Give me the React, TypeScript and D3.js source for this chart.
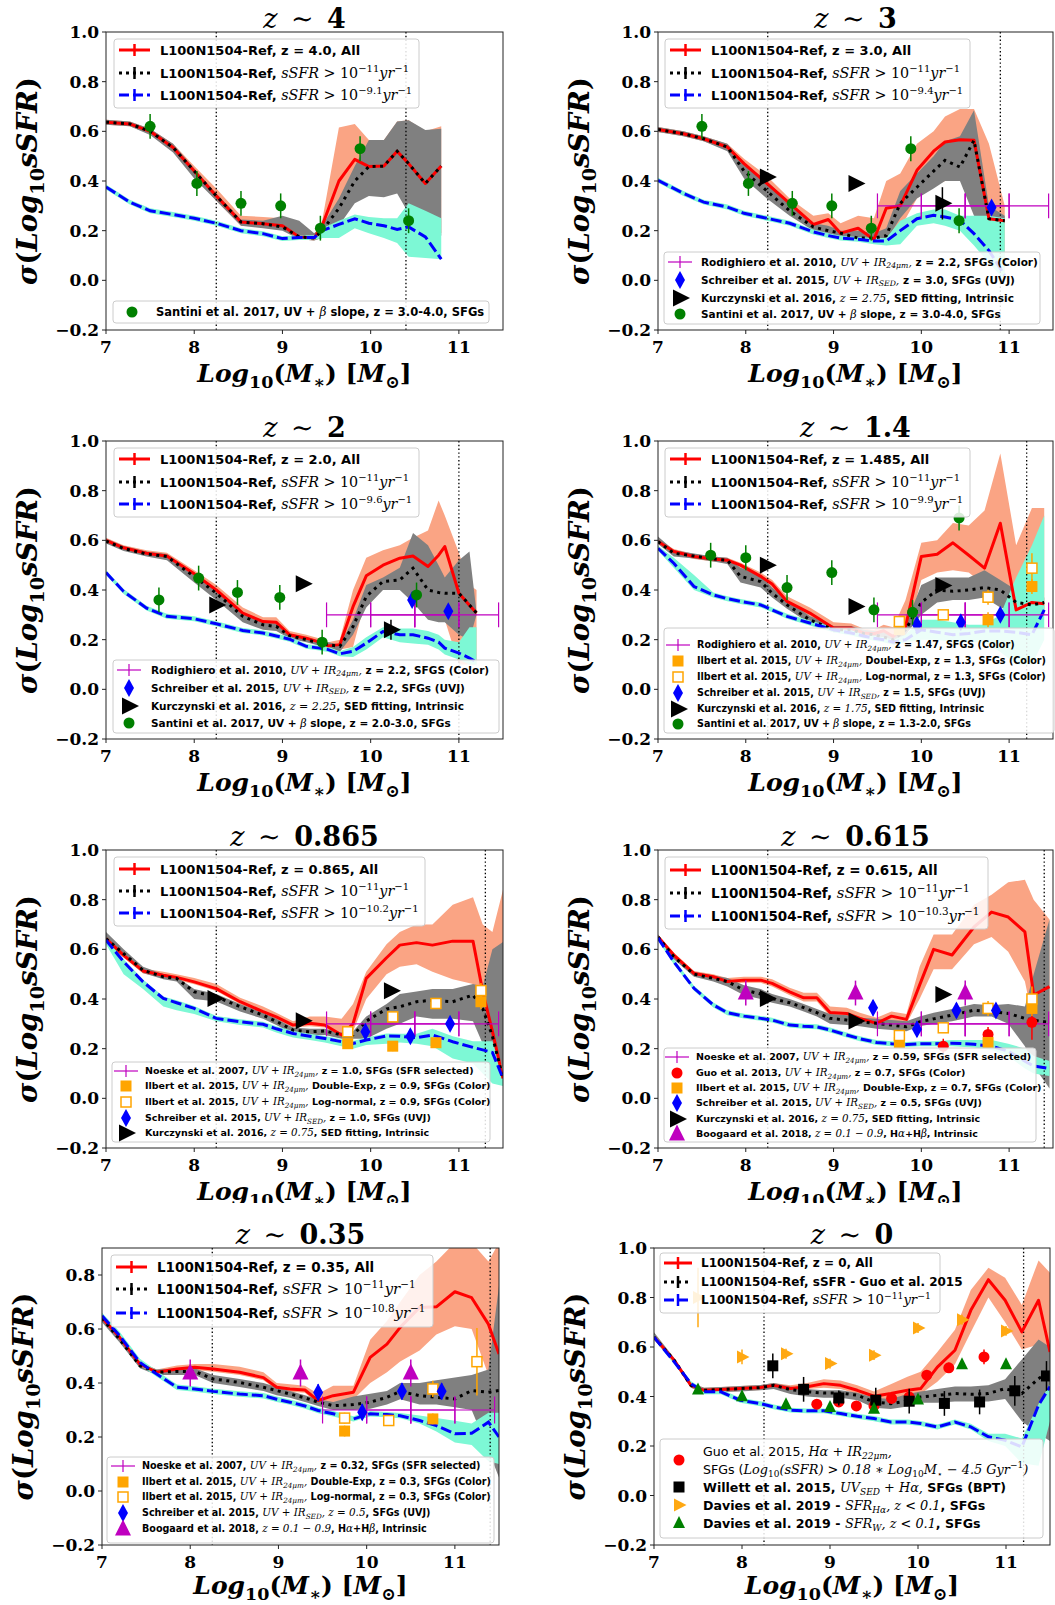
import React from 'react';
import * as d3 from 'd3';

type Seg = [string, string, number?];
type Pt = number[];

const SANS = "'DejaVu Sans', 'Liberation Sans', sans-serif";
const SERIF = "'DejaVu Serif', serif";
const ORANGE = '#FAA484';
const GREY = '#808080';
const CYAN = '#7DF8D5';
const MAG = '#BF00BF';

// ---------------- axis ticks ----------------
const xTicks = [7, 8, 9, 10, 11];
const yTicksFull = [-0.2, 0, 0.2, 0.4, 0.6, 0.8, 1.0];
const yTicksLow = [-0.2, 0, 0.2, 0.4, 0.6, 0.8];
const titles = ['4', '3', '2', '1.4', '0.865', '0.615', '0.35', '0'];
const allZ = ['4.0', '3.0', '2.0', '1.485', '0.865', '0.615', '0.35', '0'];
const blueCut = ['−9.1', '−9.4', '−9.6', '−9.9', '−10.2', '−10.3', '−10.8', '−11'];

// ---------------- simulation curves ----------------
// z ~ 4
const p1X = [7.0, 7.27, 7.5, 7.76, 8.0, 8.25, 8.53, 8.78, 9.0, 9.19, 9.36, 9.45, 9.64, 9.82, 9.98, 10.15, 10.3, 10.43, 10.62, 10.8];
const p1Red = [0.637, 0.63, 0.60, 0.535, 0.44, 0.34, 0.235, 0.228, 0.22, 0.175, 0.17, 0.22, 0.40, 0.487, 0.458, 0.46, 0.52, 0.47, 0.39, 0.46];
const p1RedLo = [0.627, 0.62, 0.59, 0.52, 0.42, 0.32, 0.22, 0.215, 0.205, 0.165, 0.16, 0.19, 0.25, 0.34, 0.36, 0.35, 0.38, 0.30, 0.26, 0.19];
const p1RedHi = [0.647, 0.64, 0.61, 0.55, 0.46, 0.37, 0.26, 0.255, 0.25, 0.19, 0.185, 0.24, 0.615, 0.63, 0.565, 0.565, 0.64, 0.645, 0.60, 0.62];
const p1Blk = [0.637, 0.63, 0.60, 0.535, 0.44, 0.34, 0.235, 0.228, 0.215, 0.175, 0.17, 0.2, 0.29, 0.40, 0.458, 0.46, 0.52, 0.47, 0.39, 0.46];
const p1BlkLo = [0.627, 0.62, 0.585, 0.515, 0.41, 0.32, 0.22, 0.21, 0.2, 0.165, 0.16, 0.17, 0.22, 0.31, 0.34, 0.335, 0.35, 0.27, 0.25, 0.18];
const p1BlkHi = [0.647, 0.64, 0.61, 0.55, 0.45, 0.35, 0.245, 0.24, 0.26, 0.24, 0.19, 0.22, 0.33, 0.46, 0.565, 0.565, 0.64, 0.645, 0.605, 0.61];
const p1Blu = [0.376, 0.315, 0.28, 0.265, 0.25, 0.23, 0.2, 0.188, 0.168, 0.172, 0.172, 0.2, 0.225, 0.248, 0.23, 0.22, 0.205, 0.215, 0.175, 0.085];
const p1BluLo = [0.366, 0.305, 0.27, 0.255, 0.24, 0.22, 0.19, 0.178, 0.158, 0.162, 0.162, 0.17, 0.17, 0.21, 0.19, 0.17, 0.15, 0.095, 0.09, 0.085];
const p1BluHi = [0.386, 0.325, 0.29, 0.275, 0.26, 0.24, 0.21, 0.198, 0.178, 0.182, 0.182, 0.21, 0.24, 0.265, 0.255, 0.25, 0.25, 0.31, 0.28, 0.25];

// z ~ 3
const p2X = [7.0, 7.29, 7.52, 7.79, 7.98, 8.24, 8.5, 8.77, 8.94, 9.08, 9.28, 9.46, 9.6, 9.76, 9.95, 10.14, 10.27, 10.44, 10.6, 10.77, 10.95];
const p2Red = [0.607, 0.59, 0.57, 0.537, 0.47, 0.39, 0.31, 0.225, 0.245, 0.19, 0.21, 0.164, 0.29, 0.30, 0.443, 0.52, 0.557, 0.566, 0.564, 0.248, 0.24];
const p2RedLo = [0.597, 0.58, 0.56, 0.525, 0.45, 0.36, 0.28, 0.21, 0.22, 0.175, 0.18, 0.15, 0.16, 0.21, 0.33, 0.38, 0.40, 0.40, 0.40, 0.22, 0.0];
const p2RedHi = [0.617, 0.60, 0.58, 0.55, 0.49, 0.42, 0.33, 0.26, 0.27, 0.23, 0.26, 0.25, 0.40, 0.43, 0.55, 0.60, 0.66, 0.69, 0.69, 0.55, 0.30];
const p2Blk = [0.607, 0.59, 0.57, 0.537, 0.44, 0.36, 0.28, 0.215, 0.2, 0.19, 0.17, 0.17, 0.18, 0.31, 0.375, 0.44, 0.483, 0.456, 0.564, 0.248, 0.24];
const p2BlkLo = [0.597, 0.58, 0.56, 0.52, 0.41, 0.33, 0.26, 0.2, 0.185, 0.17, 0.16, 0.155, 0.16, 0.25, 0.33, 0.37, 0.40, 0.40, 0.26, 0.24, 0.23];
const p2BlkHi = [0.617, 0.60, 0.58, 0.55, 0.47, 0.40, 0.31, 0.23, 0.22, 0.2, 0.2, 0.19, 0.21, 0.36, 0.43, 0.50, 0.56, 0.58, 0.685, 0.30, 0.26];
const p2Blu = [0.403, 0.35, 0.315, 0.295, 0.27, 0.25, 0.23, 0.195, 0.18, 0.17, 0.165, 0.158, 0.158, 0.2, 0.248, 0.262, 0.255, 0.242, 0.188, 0.12, 0.02];
const p2BluLo = [0.393, 0.34, 0.305, 0.285, 0.26, 0.24, 0.22, 0.185, 0.17, 0.16, 0.155, 0.145, 0.14, 0.145, 0.22, 0.23, 0.22, 0.2, 0.14, 0.07, 0.0];
const p2BluHi = [0.413, 0.36, 0.325, 0.305, 0.28, 0.26, 0.24, 0.205, 0.19, 0.18, 0.175, 0.17, 0.17, 0.24, 0.27, 0.285, 0.285, 0.26, 0.26, 0.26, 0.25];

// z ~ 2
const p3X = [7.0, 7.2, 7.46, 7.69, 8.0, 8.25, 8.55, 8.78, 8.93, 9.08, 9.27, 9.42, 9.52, 9.65, 9.8, 9.95, 10.14, 10.33, 10.48, 10.65, 10.77, 10.84, 11.0, 11.12, 11.2];
const p3Red = [0.60, 0.57, 0.548, 0.537, 0.465, 0.40, 0.307, 0.273, 0.27, 0.22, 0.206, 0.19, 0.175, 0.18, 0.333, 0.457, 0.50, 0.528, 0.537, 0.495, 0.54, 0.575, 0.387, 0.339, 0.307];
const p3RedLo = [0.59, 0.56, 0.538, 0.527, 0.45, 0.38, 0.29, 0.26, 0.255, 0.21, 0.195, 0.18, 0.165, 0.16, 0.17, 0.37, 0.42, 0.43, 0.40, 0.35, 0.30, 0.28, 0.10, 0.10, 0.10];
const p3RedHi = [0.61, 0.58, 0.56, 0.55, 0.48, 0.42, 0.33, 0.29, 0.29, 0.235, 0.22, 0.205, 0.19, 0.20, 0.40, 0.53, 0.56, 0.58, 0.61, 0.64, 0.76, 0.70, 0.55, 0.42, 0.40];
const p3Blk = [0.597, 0.567, 0.545, 0.535, 0.454, 0.387, 0.294, 0.26, 0.253, 0.216, 0.20, 0.186, 0.18, 0.173, 0.253, 0.374, 0.434, 0.44, 0.488, 0.40, 0.39, 0.387, 0.387, 0.34, 0.307];
const p3BlkLo = [0.587, 0.557, 0.535, 0.52, 0.43, 0.36, 0.27, 0.24, 0.235, 0.205, 0.19, 0.176, 0.17, 0.15, 0.22, 0.33, 0.40, 0.40, 0.35, 0.28, 0.27, 0.27, 0.22, 0.20, 0.30];
const p3BlkHi = [0.607, 0.577, 0.555, 0.545, 0.465, 0.40, 0.305, 0.27, 0.265, 0.225, 0.21, 0.196, 0.19, 0.18, 0.28, 0.42, 0.45, 0.49, 0.63, 0.58, 0.50, 0.45, 0.52, 0.555, 0.31];
const p3Blu = [0.47, 0.394, 0.327, 0.294, 0.284, 0.264, 0.237, 0.227, 0.215, 0.202, 0.173, 0.166, 0.16, 0.143, 0.153, 0.186, 0.233, 0.22, 0.22, 0.206, 0.19, 0.166, 0.146, 0.126, 0.11];
const p3BluLo = [0.46, 0.384, 0.317, 0.284, 0.274, 0.254, 0.227, 0.217, 0.205, 0.192, 0.163, 0.156, 0.15, 0.133, 0.13, 0.16, 0.21, 0.19, 0.185, 0.18, 0.16, 0.14, 0.12, 0.10, 0.10];
const p3BluHi = [0.48, 0.404, 0.337, 0.304, 0.294, 0.274, 0.247, 0.237, 0.225, 0.212, 0.183, 0.176, 0.17, 0.153, 0.17, 0.21, 0.25, 0.245, 0.245, 0.235, 0.22, 0.20, 0.19, 0.25, 0.25];

// z ~ 1.4
const p4X = [7.0, 7.18, 7.41, 7.63, 7.79, 7.94, 8.17, 8.3, 8.47, 8.73, 9.0, 9.2, 9.34, 9.46, 9.57, 9.68, 9.82, 10.0, 10.18, 10.36, 10.54, 10.72, 10.9, 11.08, 11.26, 11.4];
const p4Red = [0.595, 0.555, 0.535, 0.525, 0.52, 0.50, 0.455, 0.424, 0.354, 0.307, 0.247, 0.247, 0.227, 0.224, 0.236, 0.213, 0.253, 0.535, 0.544, 0.59, 0.54, 0.488, 0.669, 0.32, 0.35, 0.345];
const p4RedLo = [0.585, 0.545, 0.525, 0.515, 0.51, 0.49, 0.445, 0.41, 0.345, 0.295, 0.235, 0.235, 0.215, 0.21, 0.22, 0.18, 0.20, 0.44, 0.47, 0.48, 0.47, 0.42, 0.35, 0.30, 0.30, 0.30];
const p4RedHi = [0.605, 0.565, 0.545, 0.535, 0.53, 0.51, 0.47, 0.44, 0.375, 0.33, 0.27, 0.265, 0.245, 0.24, 0.26, 0.25, 0.36, 0.59, 0.60, 0.67, 0.66, 0.72, 0.95, 0.58, 0.73, 0.73];
const p4Blk = [0.595, 0.548, 0.537, 0.525, 0.52, 0.455, 0.434, 0.387, 0.34, 0.28, 0.24, 0.24, 0.225, 0.22, 0.21, 0.20, 0.24, 0.35, 0.40, 0.395, 0.40, 0.41, 0.40, 0.35, 0.34, 0.35];
const p4BlkLo = [0.585, 0.535, 0.527, 0.515, 0.505, 0.43, 0.41, 0.37, 0.325, 0.265, 0.23, 0.23, 0.215, 0.21, 0.20, 0.19, 0.22, 0.30, 0.35, 0.36, 0.36, 0.37, 0.33, 0.31, 0.30, 0.30];
const p4BlkHi = [0.615, 0.56, 0.547, 0.535, 0.53, 0.49, 0.46, 0.41, 0.36, 0.295, 0.255, 0.255, 0.24, 0.235, 0.23, 0.215, 0.26, 0.42, 0.45, 0.45, 0.45, 0.48, 0.44, 0.40, 0.37, 0.37];
const p4Blu = [0.568, 0.508, 0.414, 0.38, 0.365, 0.354, 0.34, 0.32, 0.294, 0.267, 0.24, 0.227, 0.215, 0.206, 0.20, 0.19, 0.2, 0.24, 0.23, 0.22, 0.225, 0.235, 0.235, 0.23, 0.22, 0.32];
const p4BluLo = [0.558, 0.49, 0.40, 0.37, 0.355, 0.344, 0.33, 0.31, 0.284, 0.257, 0.23, 0.217, 0.205, 0.196, 0.19, 0.18, 0.19, 0.20, 0.20, 0.19, 0.19, 0.19, 0.15, 0.10, 0.10, 0.20];
const p4BluHi = [0.578, 0.53, 0.46, 0.39, 0.375, 0.364, 0.35, 0.33, 0.304, 0.277, 0.25, 0.237, 0.225, 0.216, 0.21, 0.20, 0.22, 0.28, 0.28, 0.27, 0.26, 0.26, 0.30, 0.45, 0.58, 0.70];

// z ~ 0.865
const p5X = [7.0, 7.2, 7.42, 7.65, 7.8, 8.0, 8.25, 8.52, 8.78, 8.93, 9.12, 9.31, 9.48, 9.67, 9.8, 9.95, 10.18, 10.33, 10.52, 10.7, 10.93, 11.16, 11.27, 11.38, 11.5];
const p5Red = [0.643, 0.576, 0.513, 0.496, 0.487, 0.469, 0.442, 0.389, 0.349, 0.328, 0.295, 0.302, 0.295, 0.255, 0.30, 0.483, 0.566, 0.617, 0.627, 0.617, 0.633, 0.633, 0.43, 0.27, 0.08];
const p5RedLo = [0.633, 0.566, 0.503, 0.486, 0.477, 0.459, 0.432, 0.379, 0.339, 0.318, 0.285, 0.29, 0.285, 0.245, 0.27, 0.40, 0.50, 0.53, 0.54, 0.51, 0.48, 0.46, 0.25, 0.15, 0.05];
const p5RedHi = [0.653, 0.586, 0.523, 0.51, 0.50, 0.485, 0.46, 0.405, 0.37, 0.345, 0.31, 0.33, 0.33, 0.32, 0.38, 0.51, 0.62, 0.67, 0.70, 0.70, 0.78, 0.81, 0.70, 0.67, 0.84];
const p5Blk = [0.643, 0.583, 0.516, 0.489, 0.483, 0.429, 0.409, 0.369, 0.335, 0.31, 0.275, 0.268, 0.271, 0.255, 0.255, 0.311, 0.36, 0.369, 0.389, 0.395, 0.389, 0.416, 0.362, 0.25, 0.08];
const p5BlkLo = [0.623, 0.57, 0.505, 0.48, 0.47, 0.40, 0.39, 0.35, 0.32, 0.295, 0.26, 0.255, 0.255, 0.24, 0.24, 0.24, 0.28, 0.30, 0.33, 0.32, 0.32, 0.31, 0.22, 0.10, 0.07];
const p5BlkHi = [0.67, 0.60, 0.53, 0.50, 0.49, 0.44, 0.42, 0.38, 0.345, 0.32, 0.285, 0.28, 0.28, 0.265, 0.27, 0.33, 0.38, 0.42, 0.43, 0.44, 0.44, 0.46, 0.45, 0.60, 0.63];
const p5Blu = [0.637, 0.55, 0.469, 0.402, 0.385, 0.362, 0.322, 0.308, 0.298, 0.28, 0.261, 0.25, 0.241, 0.228, 0.221, 0.235, 0.251, 0.25, 0.244, 0.255, 0.228, 0.205, 0.195, 0.185, 0.08];
const p5BluLo = [0.62, 0.50, 0.44, 0.37, 0.355, 0.34, 0.31, 0.295, 0.285, 0.265, 0.245, 0.235, 0.225, 0.21, 0.20, 0.215, 0.22, 0.225, 0.22, 0.21, 0.16, 0.14, 0.10, 0.06, 0.05];
const p5BluHi = [0.647, 0.56, 0.479, 0.41, 0.395, 0.372, 0.332, 0.318, 0.308, 0.29, 0.271, 0.26, 0.251, 0.238, 0.231, 0.245, 0.261, 0.26, 0.26, 0.28, 0.25, 0.23, 0.23, 0.23, 0.12];

// z ~ 0.615
const p6X = [7.0, 7.18, 7.41, 7.63, 7.79, 7.98, 8.17, 8.3, 8.5, 8.66, 8.81, 8.96, 9.15, 9.3, 9.49, 9.66, 9.83, 9.98, 10.14, 10.35, 10.6, 10.8, 10.99, 11.18, 11.28, 11.46];
const p6Red = [0.65, 0.577, 0.503, 0.49, 0.47, 0.476, 0.476, 0.463, 0.429, 0.405, 0.405, 0.346, 0.342, 0.322, 0.302, 0.331, 0.318, 0.456, 0.60, 0.577, 0.69, 0.75, 0.73, 0.67, 0.416, 0.45];
const p6RedLo = [0.64, 0.567, 0.493, 0.48, 0.46, 0.465, 0.465, 0.45, 0.415, 0.39, 0.39, 0.33, 0.325, 0.31, 0.29, 0.31, 0.30, 0.40, 0.52, 0.52, 0.62, 0.65, 0.59, 0.47, 0.30, 0.30];
const p6RedHi = [0.66, 0.587, 0.513, 0.50, 0.485, 0.49, 0.49, 0.48, 0.445, 0.425, 0.425, 0.37, 0.365, 0.345, 0.325, 0.35, 0.34, 0.53, 0.66, 0.66, 0.78, 0.82, 0.87, 0.88, 0.80, 0.72];
const p6Blk = [0.65, 0.57, 0.50, 0.483, 0.47, 0.436, 0.42, 0.402, 0.385, 0.365, 0.345, 0.322, 0.315, 0.308, 0.302, 0.295, 0.288, 0.308, 0.32, 0.335, 0.355, 0.349, 0.342, 0.322, 0.315, 0.305];
const p6BlkLo = [0.64, 0.56, 0.49, 0.47, 0.45, 0.415, 0.40, 0.385, 0.37, 0.35, 0.33, 0.30, 0.295, 0.29, 0.28, 0.275, 0.27, 0.29, 0.30, 0.31, 0.33, 0.33, 0.30, 0.21, 0.13, 0.04];
const p6BlkHi = [0.66, 0.58, 0.51, 0.495, 0.485, 0.455, 0.44, 0.42, 0.40, 0.38, 0.36, 0.34, 0.335, 0.325, 0.32, 0.315, 0.31, 0.33, 0.345, 0.36, 0.38, 0.375, 0.38, 0.37, 0.50, 0.72];
const p6Blu = [0.646, 0.55, 0.443, 0.376, 0.345, 0.331, 0.322, 0.315, 0.295, 0.29, 0.288, 0.275, 0.255, 0.24, 0.225, 0.22, 0.217, 0.22, 0.22, 0.222, 0.218, 0.21, 0.19, 0.15, 0.13, 0.12];
const p6BluLo = [0.636, 0.54, 0.433, 0.366, 0.335, 0.321, 0.312, 0.305, 0.285, 0.28, 0.278, 0.265, 0.245, 0.23, 0.215, 0.21, 0.207, 0.21, 0.21, 0.21, 0.205, 0.195, 0.17, 0.12, 0.10, 0.09];
const p6BluHi = [0.656, 0.56, 0.453, 0.386, 0.355, 0.341, 0.332, 0.325, 0.305, 0.30, 0.298, 0.285, 0.265, 0.25, 0.235, 0.23, 0.227, 0.23, 0.23, 0.235, 0.235, 0.235, 0.22, 0.20, 0.17, 0.15];

// z ~ 0.35
const p7X = [7.0, 7.2, 7.43, 7.62, 7.85, 8.05, 8.26, 8.56, 8.83, 8.98, 9.13, 9.3, 9.45, 9.62, 9.85, 10.04, 10.23, 10.38, 10.6, 10.79, 11.0, 11.19, 11.38, 11.5];
const p7Red = [0.642, 0.569, 0.47, 0.44, 0.452, 0.458, 0.452, 0.44, 0.42, 0.384, 0.378, 0.374, 0.335, 0.353, 0.366, 0.495, 0.544, 0.606, 0.68, 0.682, 0.738, 0.716, 0.618, 0.507];
const p7RedLo = [0.632, 0.559, 0.46, 0.43, 0.442, 0.448, 0.442, 0.43, 0.41, 0.374, 0.368, 0.364, 0.32, 0.33, 0.34, 0.40, 0.44, 0.48, 0.52, 0.58, 0.61, 0.60, 0.43, 0.35];
const p7RedHi = [0.652, 0.579, 0.48, 0.45, 0.465, 0.47, 0.47, 0.46, 0.44, 0.40, 0.395, 0.39, 0.36, 0.39, 0.39, 0.56, 0.63, 0.70, 0.80, 0.85, 0.92, 0.92, 0.85, 0.92];
const p7Blk = [0.64, 0.562, 0.464, 0.44, 0.443, 0.443, 0.415, 0.402, 0.384, 0.372, 0.359, 0.345, 0.329, 0.316, 0.32, 0.329, 0.347, 0.369, 0.353, 0.347, 0.341, 0.372, 0.366, 0.372];
const p7BlkLo = [0.625, 0.55, 0.455, 0.43, 0.43, 0.43, 0.40, 0.385, 0.37, 0.355, 0.345, 0.33, 0.315, 0.30, 0.30, 0.305, 0.32, 0.34, 0.32, 0.32, 0.31, 0.30, 0.15, 0.05];
const p7BlkHi = [0.655, 0.575, 0.475, 0.45, 0.455, 0.455, 0.43, 0.415, 0.40, 0.385, 0.37, 0.355, 0.34, 0.33, 0.35, 0.36, 0.37, 0.40, 0.40, 0.41, 0.42, 0.43, 0.45, 0.76];
const p7Blu = [0.649, 0.575, 0.476, 0.433, 0.384, 0.378, 0.369, 0.359, 0.353, 0.34, 0.329, 0.315, 0.298, 0.286, 0.267, 0.286, 0.283, 0.279, 0.261, 0.242, 0.212, 0.214, 0.255, 0.2];
const p7BluLo = [0.639, 0.565, 0.466, 0.423, 0.374, 0.368, 0.359, 0.349, 0.343, 0.33, 0.319, 0.305, 0.288, 0.276, 0.257, 0.276, 0.273, 0.269, 0.25, 0.22, 0.18, 0.17, 0.11, 0.10];
const p7BluHi = [0.66, 0.59, 0.49, 0.445, 0.394, 0.388, 0.379, 0.369, 0.363, 0.35, 0.339, 0.325, 0.308, 0.296, 0.277, 0.296, 0.293, 0.289, 0.28, 0.27, 0.26, 0.25, 0.29, 0.29];

// z ~ 0
const p8X = [7.0, 7.23, 7.42, 7.57, 7.76, 7.98, 8.21, 8.36, 8.55, 8.74, 8.93, 9.12, 9.31, 9.5, 9.69, 9.88, 10.03, 10.22, 10.42, 10.6, 10.8, 10.99, 11.18, 11.37, 11.5];
const p8Red = [0.64, 0.546, 0.445, 0.425, 0.428, 0.432, 0.436, 0.445, 0.432, 0.439, 0.452, 0.445, 0.425, 0.401, 0.412, 0.425, 0.432, 0.519, 0.587, 0.748, 0.872, 0.789, 0.661, 0.789, 0.58];
const p8RedLo = [0.63, 0.536, 0.435, 0.415, 0.418, 0.422, 0.426, 0.435, 0.422, 0.43, 0.435, 0.43, 0.41, 0.38, 0.39, 0.40, 0.41, 0.46, 0.53, 0.66, 0.80, 0.70, 0.59, 0.61, 0.50];
const p8RedHi = [0.65, 0.556, 0.455, 0.435, 0.438, 0.442, 0.446, 0.455, 0.445, 0.455, 0.47, 0.465, 0.445, 0.42, 0.45, 0.48, 0.50, 0.58, 0.67, 0.83, 0.92, 0.88, 0.77, 0.95, 0.90];
const p8Blk = [0.64, 0.546, 0.445, 0.425, 0.428, 0.432, 0.436, 0.445, 0.428, 0.419, 0.414, 0.414, 0.405, 0.378, 0.371, 0.382, 0.398, 0.405, 0.412, 0.409, 0.412, 0.432, 0.412, 0.472, 0.506];
const p8BlkLo = [0.63, 0.536, 0.435, 0.415, 0.418, 0.42, 0.425, 0.43, 0.41, 0.40, 0.395, 0.395, 0.385, 0.355, 0.35, 0.36, 0.375, 0.375, 0.38, 0.38, 0.38, 0.39, 0.30, 0.25, 0.22];
const p8BlkHi = [0.66, 0.556, 0.455, 0.435, 0.438, 0.442, 0.446, 0.455, 0.44, 0.43, 0.425, 0.425, 0.415, 0.395, 0.39, 0.41, 0.42, 0.43, 0.44, 0.44, 0.445, 0.47, 0.55, 0.63, 0.60];
const p8Blu = [0.64, 0.54, 0.452, 0.419, 0.419, 0.385, 0.371, 0.358, 0.345, 0.342, 0.342, 0.331, 0.32, 0.311, 0.297, 0.297, 0.291, 0.277, 0.297, 0.277, 0.237, 0.223, 0.196, 0.365, 0.44];
const p8BluLo = [0.63, 0.53, 0.442, 0.409, 0.409, 0.375, 0.361, 0.348, 0.335, 0.332, 0.332, 0.321, 0.31, 0.30, 0.287, 0.287, 0.281, 0.267, 0.287, 0.267, 0.22, 0.20, 0.13, 0.12, 0.30];
const p8BluHi = [0.65, 0.55, 0.462, 0.429, 0.429, 0.395, 0.381, 0.368, 0.355, 0.352, 0.352, 0.341, 0.33, 0.321, 0.307, 0.307, 0.301, 0.287, 0.307, 0.29, 0.25, 0.25, 0.23, 0.37, 0.45];

// ---------------- observations: [x, y, yerr] ----------------
const santiniZ3: Pt[] = [[7.5, 0.62, 0.05], [8.03, 0.39, 0.05], [8.53, 0.31, 0.05], [8.98, 0.30, 0.05], [9.43, 0.21, 0.05], [9.88, 0.53, 0.05], [10.43, 0.24, 0.05]];
const santiniZ2: Pt[] = [[7.6, 0.36, 0.05], [8.05, 0.448, 0.05], [8.49, 0.39, 0.05], [8.97, 0.37, 0.05], [9.45, 0.19, 0.05], [10.52, 0.38, 0.05]];
const santiniZ14: Pt[] = [[7.6, 0.54, 0.05], [8.0, 0.53, 0.05], [8.47, 0.41, 0.05], [8.98, 0.47, 0.05], [9.46, 0.32, 0.05], [9.9, 0.31, 0.05], [10.43, 0.69, 0.05]];
// [x, y, yerr, xerrLow, xerrHigh]
const rodighiero: Pt[] = [[10, 0.3, 0.05, 0.5, 0.5], [10.5, 0.3, 0.05, 0.5, 0.5], [11, 0.3, 0.05, 0.5, 0.45]];
const noeske: Pt[] = [[10, 0.3, 0.05, 0.5, 0.5], [10.5, 0.3, 0.05, 0.5, 0.5], [11, 0.3, 0.05, 0.5, 0.45]];
const schreiberZ3: Pt[] = [[10.8, 0.293, 0.02]];
const schreiberZ2: Pt[] = [[10.47, 0.36, 0.02], [10.88, 0.314, 0.02]];
const schreiberZ15: Pt[] = [[9.95, 0.26, 0.02], [10.45, 0.27, 0.02], [10.9, 0.30, 0.02]];
const schreiberZ1: Pt[] = [[9.94, 0.268, 0.03], [10.45, 0.25, 0.02], [10.9, 0.3, 0.02]];
const schreiberZ05: Pt[] = [[9.45, 0.365, 0.03], [9.95, 0.278, 0.03], [10.4, 0.354, 0.03], [10.85, 0.354, 0.03]];
const schreiberZ05b: Pt[] = [[9.45, 0.365, 0.03], [9.95, 0.292, 0.03], [10.4, 0.369, 0.03], [10.85, 0.369, 0.03]];
const kurczZ275: Pt[] = [[8.24, 0.416, 0], [9.25, 0.39, 0], [10.24, 0.31, 0.065]];
const kurczZ225: Pt[] = [[8.25, 0.34, 0], [9.23, 0.425, 0], [10.23, 0.24, 0.04]];
const kurczZ175: Pt[] = [[8.24, 0.5, 0], [9.25, 0.334, 0], [10.24, 0.418, 0]];
const kurczZ075: Pt[] = [[8.23, 0.402, 0], [9.23, 0.312, 0], [10.23, 0.433, 0]];
const kurczZ075b: Pt[] = [[8.24, 0.402, 0], [9.25, 0.311, 0], [10.24, 0.418, 0]];
const ilbertDZ13: Pt[] = [[9.75, 0.24, 0.02], [10.76, 0.28, 0.03], [11.26, 0.414, 0.03]];
const ilbertLZ13: Pt[] = [[9.75, 0.273, 0.02], [10.25, 0.30, 0.02], [10.76, 0.371, 0.03], [11.26, 0.488, 0.06]];
const ilbertDZ09: Pt[] = [[9.74, 0.22, 0.02], [10.25, 0.21, 0.02], [10.74, 0.224, 0.02], [11.25, 0.389, 0.03]];
const ilbertLZ09: Pt[] = [[9.74, 0.268, 0.02], [10.25, 0.328, 0.02], [10.74, 0.382, 0.02], [11.25, 0.434, 0.03]];
const ilbertDZ07: Pt[] = [[9.75, 0.225, 0.02], [10.76, 0.225, 0.02], [11.26, 0.362, 0.03]];
const ilbertLZ07: Pt[] = [[9.75, 0.253, 0.02], [10.25, 0.284, 0.02], [10.76, 0.362, 0.03], [11.26, 0.40, 0.05]];
const ilbertDZ03: Pt[] = [[9.75, 0.222, 0.02], [10.75, 0.267, 0.02]];
const ilbertLZ03: Pt[] = [[9.75, 0.27, 0.02], [10.25, 0.261, 0.02], [10.75, 0.378, 0.03], [11.25, 0.479, 0.125]];
const guo13: Pt[] = [[10.25, 0.21, 0.03], [10.76, 0.257, 0.03], [11.26, 0.306, 0.07]];
const boogaardA: Pt[] = [[8.0, 0.424, 0.05], [9.25, 0.424, 0.05], [10.5, 0.424, 0.05]];
const boogaardB: Pt[] = [[8.0, 0.437, 0.05], [9.25, 0.437, 0.05], [10.5, 0.437, 0.05]];
const guo15: Pt[] = [[8.85, 0.369, 0.02], [9.1, 0.378, 0.02], [9.3, 0.362, 0.02], [9.5, 0.362, 0.02], [9.7, 0.392, 0.02], [9.9, 0.398, 0.02], [10.1, 0.486, 0.02], [10.35, 0.516, 0.02], [10.75, 0.56, 0.03]];
const willett: Pt[] = [[8.35, 0.524, 0.05], [8.7, 0.429, 0.05], [9.1, 0.394, 0.03], [9.52, 0.385, 0.05], [9.9, 0.381, 0.05], [10.3, 0.372, 0.05], [10.7, 0.378, 0.05], [11.1, 0.423, 0.06], [11.46, 0.483, 0.06]];
const daviesHa: Pt[] = [[7.5, 0.8, 0.12], [8.0, 0.56, 0.03], [8.5, 0.573, 0.02], [9.0, 0.533, 0.02], [9.5, 0.567, 0.02], [10.0, 0.677, 0.02], [10.5, 0.71, 0.02], [11.0, 0.665, 0.02]];
const daviesW: Pt[] = [[7.5, 0.428, 0.01], [8.0, 0.401, 0.01], [8.5, 0.369, 0.01], [9.0, 0.358, 0.01], [9.5, 0.351, 0.01], [10.0, 0.388, 0.01], [10.5, 0.53, 0.01], [11.0, 0.53, 0.01]];

// ---------------- legend texts ----------------
const UVIR24: Seg[] = [['m', 'UV + IR'], ['m_', '24μm'], ['m', ',']];
const UVIRSED: Seg[] = [['m', 'UV + IR'], ['m_', 'SED'], ['m', ',']];
const txtRodi = (z: string, s: string): Seg[] => [['b', 'Rodighiero et al. 2010, '], ...UVIR24, ['b', ` z = ${z}, ${s} (Color)`]];
const txtSchr = (z: string): Seg[] => [['b', 'Schreiber et al. 2015, '], ...UVIRSED, ['b', ` z = ${z}, SFGs (UVJ)`]];
const txtKurc = (z: string): Seg[] => [['b', 'Kurczynski et al. 2016, '], ['m', `z = ${z}`], ['b', ', SED fitting, Intrinsic']];
const txtSant = (z: string): Seg[] => [['b', 'Santini et al. 2017, UV + '], ['m', 'β'], ['b', ` slope, z = ${z}, SFGs`]];
const txtIlb = (k: string, z: string): Seg[] => [['b', 'Ilbert et al. 2015, '], ...UVIR24, ['b', ` ${k}, z = ${z}, SFGs (Color)`]];
const txtNoe = (z: string): Seg[] => [['b', 'Noeske et al. 2007, '], ...UVIR24, ['b', ` z = ${z}, SFGs (SFR selected)`]];
const txtGuo13: Seg[] = [['b', 'Guo et al. 2013, '], ...UVIR24, ['b', ' z = 0.7, SFGs (Color)']];
const txtBoog: Seg[] = [['b', 'Boogaard et al. 2018, '], ['m', 'z = 0.1 − 0.9'], ['b', ', H'], ['m', 'α'], ['b', '+H'], ['m', 'β'], ['b', ', Intrinsic']];
const txtSchr7: Seg[] = [['b', 'Schreiber et al. 2015, '], ['m', 'UV + IR'], ['m_', 'SED'], ['m', ', z = 0.5'], ['b', ', SFGs (UVJ)']];
const txtGuo15a: Seg[] = [['n', 'Guo et al. 2015, '], ['m', 'Hα + IR'], ['m_', '22μm'], ['m', ',']];
const txtGuo15b: Seg[] = [['n', 'SFGs ('], ['m', 'Log'], ['r_', '10'], ['m', '(sSFR) > 0.18 ∗ Log'], ['r_', '10'], ['m', 'M'], ['r_', '⋆'], ['m', ' − 4.5 Gyr'], ['r^', '−1'], ['m', ')']];
const txtWill: Seg[] = [['b', 'Willett et al. 2015, '], ['m', 'UV'], ['m_', 'SED'], ['m', ' + Hα,'], ['b', ' SFGs (BPT)']];
const txtDavHa: Seg[] = [['b', 'Davies et al. 2019 - '], ['m', 'SFR'], ['m_', 'Hα'], ['m', ', z < 0.1'], ['b', ', SFGs']];
const txtDavW: Seg[] = [['b', 'Davies et al. 2019 - '], ['m', 'SFR'], ['m_', 'W'], ['m', ', z < 0.1'], ['b', ', SFGs']];

type ObsSet = { kind: string; color: string; pts: Pt[] };
const S = (kind: string, color: string, pts: Pt[]): ObsSet => ({ kind, color, pts });

// ---------------- panel layout ----------------
type LegendObs = { x: number; y: number; w: number; h: number; font: number; ms: number; mx: number; tx: number; rows: number[]; entries: { set: ObsSet; lines: Seg[][] }[] };
type PanelSpec = {
  left: number; right: number; top: number; bottom: number; yDom: [number, number]; yTicks: number[]; xlab: number;
  xs: number[]; red: number[]; redLo: number[]; redHi: number[]; blk: number[]; blkLo: number[]; blkHi: number[];
  blu: number[]; bluLo: number[]; bluHi: number[]; vlines: number[]; obs: ObsSet[];
  main: { x: number; y: number; w: number; h: number; font: number; hx: number; hw: number; tx: number; rows: number[] };
  leg: LegendObs;
};

function buildPanels(): PanelSpec[] {
  const sant3 = S('circle', '#008000', santiniZ3);
  const sant2 = S('circle', '#008000', santiniZ2);
  const sant14 = S('circle', '#008000', santiniZ14);
  const rodi = S('hline', MAG, rodighiero);
  const noe = S('hline', MAG, noeske);
  const sch3 = S('diamond', '#0000ff', schreiberZ3);
  const sch2 = S('diamond', '#0000ff', schreiberZ2);
  const sch15 = S('diamond', '#0000ff', schreiberZ15);
  const sch1 = S('diamond', '#0000ff', schreiberZ1);
  const sch05 = S('diamond', '#0000ff', schreiberZ05);
  const sch05b = S('diamond', '#0000ff', schreiberZ05b);
  const k275 = S('triR', '#000000', kurczZ275);
  const k225 = S('triR', '#000000', kurczZ225);
  const k175 = S('triR', '#000000', kurczZ175);
  const k075 = S('triR', '#000000', kurczZ075);
  const k075b = S('triR', '#000000', kurczZ075b);
  const iD13 = S('square', '#FFA500', ilbertDZ13);
  const iL13 = S('squareOpen', '#FFA500', ilbertLZ13);
  const iD09 = S('square', '#FFA500', ilbertDZ09);
  const iL09 = S('squareOpen', '#FFA500', ilbertLZ09);
  const iD07 = S('square', '#FFA500', ilbertDZ07);
  const iL07 = S('squareOpen', '#FFA500', ilbertLZ07);
  const iD03 = S('square', '#FFA500', ilbertDZ03);
  const iL03 = S('squareOpen', '#FFA500', ilbertLZ03);
  const g13 = S('circle', '#ff0000', guo13);
  const bA = S('triUp', MAG, boogaardA);
  const bB = S('triUp', MAG, boogaardB);
  const g15 = S('circle', '#ff0000', guo15);
  const wil = S('square', '#000000', willett);
  const dHa = S('triRs', '#FFA812', daviesHa);
  const dW = S('triUps', '#008000', daviesW);

  const L = { left: 106, right: 503, xlab: 52 };
  const R = { left: 658, right: 1053, xlab: 52 };
  const mainStd = (x: number, y: number, w = 305, h = 69, rows = [11, 34, 56], font = 13) => ({ x, y, w, h, font, hx: 5, hw: 31, tx: 46, rows });

  return [
    { ...L, top: 32, bottom: 330, yDom: [-0.2, 1.0], yTicks: yTicksFull, xs: p1X, red: p1Red, redLo: p1RedLo, redHi: p1RedHi, blk: p1Blk, blkLo: p1BlkLo, blkHi: p1BlkHi, blu: p1Blu, bluLo: p1BluLo, bluHi: p1BluHi, vlines: [8.25, 10.4], obs: [sant3],
      main: mainStd(114, 39), leg: { x: 113, y: 301, w: 376, h: 22, font: 11.5, ms: 1.05, mx: 19, tx: 43, rows: [11], entries: [{ set: sant3, lines: [txtSant('3.0-4.0')] }] } },
    { ...R, top: 32, bottom: 330, yDom: [-0.2, 1.0], yTicks: yTicksFull, xs: p2X, red: p2Red, redLo: p2RedLo, redHi: p2RedHi, blk: p2Blk, blkLo: p2BlkLo, blkHi: p2BlkHi, blu: p2Blu, bluLo: p2BluLo, bluHi: p2BluHi, vlines: [8.25, 10.9], obs: [rodi, sch3, k275, sant3],
      main: mainStd(665, 39), leg: { x: 664, y: 252, w: 376, h: 72, font: 10.5, ms: 1.05, mx: 16, tx: 37, rows: [10, 28, 46, 62], entries: [{ set: rodi, lines: [txtRodi('2.2', 'SFGs')] }, { set: sch3, lines: [txtSchr('3.0')] }, { set: k275, lines: [txtKurc('2.75')] }, { set: sant3, lines: [txtSant('3.0-4.0')] }] } },
    { ...L, top: 441, bottom: 739, yDom: [-0.2, 1.0], yTicks: yTicksFull, xs: p3X, red: p3Red, redLo: p3RedLo, redHi: p3RedHi, blk: p3Blk, blkLo: p3BlkLo, blkHi: p3BlkHi, blu: p3Blu, bluLo: p3BluLo, bluHi: p3BluHi, vlines: [8.25, 11.0], obs: [rodi, sch2, k225, sant2],
      main: mainStd(114, 448), leg: { x: 113, y: 660, w: 386, h: 73, font: 10.5, ms: 1.05, mx: 16, tx: 38, rows: [10, 28, 46, 63], entries: [{ set: rodi, lines: [txtRodi('2.2', 'SFGS')] }, { set: sch2, lines: [txtSchr('2.2')] }, { set: k225, lines: [txtKurc('2.25')] }, { set: sant2, lines: [txtSant('2.0-3.0')] }] } },
    { ...R, top: 441, bottom: 739, yDom: [-0.2, 1.0], yTicks: yTicksFull, xs: p4X, red: p4Red, redLo: p4RedLo, redHi: p4RedHi, blk: p4Blk, blkLo: p4BlkLo, blkHi: p4BlkHi, blu: p4Blu, bluLo: p4BluLo, bluHi: p4BluHi, vlines: [8.25, 11.2], obs: [rodi, iD13, iL13, sch15, k175, sant14],
      main: mainStd(665, 448), leg: { x: 664, y: 628, w: 390, h: 105, font: 9.6, ms: 1.08, mx: 14, tx: 33, rows: [17, 33, 49, 65, 81, 96], entries: [{ set: rodi, lines: [txtRodi('1.47', 'SFGS')] }, { set: iD13, lines: [txtIlb('Doubel-Exp', '1.3')] }, { set: iL13, lines: [txtIlb('Log-normal', '1.3')] }, { set: sch15, lines: [txtSchr('1.5')] }, { set: k175, lines: [txtKurc('1.75')] }, { set: sant14, lines: [txtSant('1.3-2.0')] }] } },
    { ...L, top: 850, bottom: 1148, yDom: [-0.2, 1.0], yTicks: yTicksFull, xs: p5X, red: p5Red, redLo: p5RedLo, redHi: p5RedHi, blk: p5Blk, blkLo: p5BlkLo, blkHi: p5BlkHi, blu: p5Blu, bluLo: p5BluLo, bluHi: p5BluHi, vlines: [8.25, 11.3], obs: [noe, iD09, iL09, sch1, k075],
      main: mainStd(114, 857, 311, 69, [12, 34, 56]), leg: { x: 112, y: 1062, w: 378, h: 80, font: 9.5, ms: 1.08, mx: 14, tx: 33, rows: [9, 24, 40, 56, 71], entries: [{ set: noe, lines: [txtNoe('1.0')] }, { set: iD09, lines: [txtIlb('Double-Exp', '0.9')] }, { set: iL09, lines: [txtIlb('Log-normal', '0.9')] }, { set: sch1, lines: [txtSchr('1.0')] }, { set: k075, lines: [txtKurc('0.75')] }] } },
    { ...R, top: 850, bottom: 1148, yDom: [-0.2, 1.0], yTicks: yTicksFull, xs: p6X, red: p6Red, redLo: p6RedLo, redHi: p6RedHi, blk: p6Blk, blkLo: p6BlkLo, blkHi: p6BlkHi, blu: p6Blu, bluLo: p6BluLo, bluHi: p6BluHi, vlines: [8.25, 11.4], obs: [noe, g13, iD07, iL07, sch05, k075b, bA],
      main: mainStd(665, 857, 323, 72, [13, 36, 59], 13.5), leg: { x: 664, y: 1048, w: 372, h: 94, font: 9.5, ms: 1.08, mx: 13, tx: 32, rows: [9, 25, 40, 55, 71, 86], entries: [{ set: noe, lines: [txtNoe('0.59')] }, { set: g13, lines: [txtGuo13] }, { set: iD07, lines: [txtIlb('Double-Exp', '0.7')] }, { set: sch05, lines: [txtSchr('0.5')] }, { set: k075b, lines: [txtKurc('0.75')] }, { set: bA, lines: [txtBoog] }] } },
    { left: 102, right: 499, xlab: 49, top: 1248, bottom: 1545, yDom: [-0.2, 0.9], yTicks: yTicksLow, xs: p7X, red: p7Red, redLo: p7RedLo, redHi: p7RedHi, blk: p7Blk, blkLo: p7BlkLo, blkHi: p7BlkHi, blu: p7Blu, bluLo: p7BluLo, bluHi: p7BluHi, vlines: [8.25, 11.4], obs: [noe, iD03, iL03, sch05b, bB],
      main: mainStd(111, 1255, 322, 72, [12, 34, 58], 13.5), leg: { x: 107, y: 1457, w: 387, h: 86, font: 9.6, ms: 1.08, mx: 16, tx: 35, rows: [9, 25, 40, 56, 72], entries: [{ set: noe, lines: [txtNoe('0.32')] }, { set: iD03, lines: [txtIlb('Double-Exp', '0.3')] }, { set: iL03, lines: [txtIlb('Log-normal', '0.3')] }, { set: sch05b, lines: [txtSchr7] }, { set: bB, lines: [txtBoog] }] } },
    { left: 654, right: 1050, xlab: 49, top: 1248, bottom: 1545, yDom: [-0.2, 1.0], yTicks: yTicksFull, xs: p8X, red: p8Red, redLo: p8RedLo, redHi: p8RedHi, blk: p8Blk, blkLo: p8BlkLo, blkHi: p8BlkHi, blu: p8Blu, bluLo: p8BluLo, bluHi: p8BluHi, vlines: [8.25, 11.2], obs: [dHa, g15, wil, dW],
      main: { x: 660, y: 1253, w: 280, h: 60, font: 12, hx: 4, hw: 28, tx: 41, rows: [10, 29, 47] }, leg: { x: 660, y: 1439, w: 383, h: 99, font: 12.6, ms: 1.02, mx: 19, tx: 43, rows: [21, 48, 66, 84], entries: [{ set: g15, lines: [txtGuo15a, txtGuo15b] }, { set: wil, lines: [txtWill] }, { set: dHa, lines: [txtDavHa] }, { set: dW, lines: [txtDavW] }] } },
  ];
}

// ---------------- drawing helpers ----------------
function Rich({ x, y, segs, size, anchor, transform, mathScale }: { x: number; y: number; segs: Seg[]; size: number; anchor?: string; transform?: string; mathScale?: number }) {
  let off = 0;
  const ms = mathScale || 1;
  return (
    <text x={x} y={y} fontSize={size} textAnchor={anchor || 'start'} transform={transform} style={{ whiteSpace: 'pre' }} fill="#000">
      {segs.map(([k, t, mult], i) => {
        const base = k[0];
        const mod = k[1];
        const target = mod === '^' ? -size * 0.42 : mod === '_' ? size * 0.25 : 0;
        const dy = target - off;
        off = target;
        const isSans = base === 'b' || base === 'n';
        const fam = isSans ? SANS : SERIF;
        const weight = base === 'b' || base === 'M' || base === 'R' ? 'bold' : 'normal';
        const italic = base === 'm' || base === 'M';
        const fs = (mod ? size * 0.7 : size) * (isSans ? 1 : ms) * (mult || 1);
        return (
          <tspan key={i} dy={dy} fontFamily={fam} fontWeight={weight} fontStyle={italic ? 'italic' : 'normal'} fontSize={fs}>{t}</tspan>
        );
      })}
    </text>
  );
}

function Marker({ kind, cx, cy, color }: { kind: string; cx: number; cy: number; color: string }) {
  switch (kind) {
    case 'circle': return <circle cx={cx} cy={cy} r={5.5} fill={color} />;
    case 'square': return <rect x={cx - 5.5} y={cy - 5.5} width={11} height={11} fill={color} />;
    case 'squareOpen': return <rect x={cx - 5} y={cy - 5} width={10} height={10} fill="#fff" stroke={color} strokeWidth={1.5} />;
    case 'diamond': return <polygon points={`${cx},${cy - 9} ${cx + 5},${cy} ${cx},${cy + 9} ${cx - 5},${cy}`} fill={color} />;
    case 'triR': return <polygon points={`${cx - 7},${cy - 8.5} ${cx - 7},${cy + 8.5} ${cx + 10},${cy}`} fill={color} />;
    case 'triRs': return <polygon points={`${cx - 5},${cy - 6.5} ${cx - 5},${cy + 6.5} ${cx + 7.5},${cy}`} fill={color} />;
    case 'triUp': return <polygon points={`${cx},${cy - 9.5} ${cx - 8},${cy + 6.5} ${cx + 8},${cy + 6.5}`} fill={color} />;
    case 'triUps': return <polygon points={`${cx},${cy - 7} ${cx - 6},${cy + 5} ${cx + 6},${cy + 5}`} fill={color} />;
    default: return null;
  }
}

function ObsLayer({ s, x, y }: { s: ObsSet; x: d3.ScaleLinear<number, number>; y: d3.ScaleLinear<number, number> }) {
  return (
    <g>
      {s.pts.map((pt, i) => {
        if (s.kind === 'hline') {
          const [px, py, ey, xl, xh] = pt;
          const segs = [
            [x(px - xl), y(py), x(px + xh), y(py)],
            [x(px), y(py - ey), x(px), y(py + ey)],
            [x(px - xl), y(py - ey), x(px - xl), y(py + ey)],
            [x(px + xh), y(py - ey), x(px + xh), y(py + ey)],
          ];
          return <g key={i}>{segs.map((q, j) => <line key={j} x1={q[0]} y1={q[1]} x2={q[2]} y2={q[3]} stroke={s.color} strokeWidth={1.2} />)}</g>;
        }
        const [px, py, e] = pt;
        return (
          <g key={i}>
            {e > 0 && <line x1={x(px)} x2={x(px)} y1={y(py - e)} y2={y(py + e)} stroke={s.color} strokeWidth={1.5} />}
            <Marker kind={s.kind} cx={x(px)} cy={y(py)} color={s.color} />
          </g>
        );
      })}
    </g>
  );
}

const fmt = d3.format('.1f');

function Panel({ p, idx }: { p: PanelSpec; idx: number }) {
  const x = d3.scaleLinear().domain([7, 11.5]).range([p.left, p.right]);
  const y = d3.scaleLinear().domain(p.yDom).range([p.bottom, p.top]);
  const ii = d3.range(p.xs.length);
  const area = (lo: number[], hi: number[]) => d3.area<number>().x(i => x(p.xs[i])).y0(i => y(lo[i])).y1(i => y(hi[i]))(ii) || '';
  const line = (v: number[]) => d3.line<number>().x(i => x(p.xs[i])).y(i => y(v[i]))(ii) || '';
  const clip = `clip-${idx}`;
  const cx = (p.left + p.right) / 2;
  const cy = (p.top + p.bottom) / 2;
  const m = p.main;
  const lg = p.leg;
  const blueLabel: Seg[] = [['b', 'L100N1504-Ref, '], ['m', 'sSFR'], ['r', ' > 10'], ['r^', idx === 7 ? '−11' : blueCut[idx]], ['m', 'yr'], ['r^', '−1']];
  const blackLabel: Seg[] = idx === 7 ? [['b', 'L100N1504-Ref, sSFR - Guo et al. 2015']] : [['b', 'L100N1504-Ref, '], ['m', 'sSFR'], ['r', ' > 10'], ['r^', '−11'], ['m', 'yr'], ['r^', '−1']];
  const mainRows: { color: string; dash?: string; segs: Seg[] }[] = [
    { color: '#ff0000', segs: [['b', `L100N1504-Ref, z = ${allZ[idx]}, All`]] },
    { color: '#000000', dash: '3,4', segs: blackLabel },
    { color: '#0000ff', dash: '10,4', segs: blueLabel },
  ];
  return (
    <g>
      <defs>
        <clipPath id={clip}><rect x={p.left} y={p.top} width={p.right - p.left} height={p.bottom - p.top} /></clipPath>
      </defs>
      <g clipPath={`url(#${clip})`}>
        <path d={area(p.redLo, p.redHi)} fill={ORANGE} />
        <path d={area(p.blkLo, p.blkHi)} fill={GREY} />
        <path d={area(p.bluLo, p.bluHi)} fill={CYAN} />
        {p.vlines.map((v, i) => <line key={i} x1={x(v)} x2={x(v)} y1={p.top} y2={p.bottom} stroke="#000" strokeWidth={1.3} strokeDasharray="1.4,2.4" />)}
        <path d={line(p.red)} fill="none" stroke="#ff0000" strokeWidth={3} strokeLinejoin="round" />
        <path d={line(p.blk)} fill="none" stroke="#000" strokeWidth={3} strokeDasharray="3,4.5" />
        <path d={line(p.blu)} fill="none" stroke="#0000ff" strokeWidth={3} strokeDasharray="11,4" />
        {p.obs.map((s, i) => <ObsLayer key={i} s={s} x={x} y={y} />)}
      </g>
      <rect x={p.left} y={p.top} width={p.right - p.left} height={p.bottom - p.top} fill="none" stroke="#222" strokeWidth={1} />
      {xTicks.map(t => (
        <g key={t}>
          <line x1={x(t)} x2={x(t)} y1={p.bottom} y2={p.bottom + 4} stroke="#222" />
          <text x={x(t)} y={p.bottom + 23} textAnchor="middle" fontFamily={SERIF} fontWeight="bold" fontSize={17}>{t}</text>
        </g>
      ))}
      {p.yTicks.map(t => (
        <g key={t}>
          <line x1={p.left - 4} x2={p.left} y1={y(t)} y2={y(t)} stroke="#222" />
          <text x={p.left - 7} y={y(t) + 6} textAnchor="end" fontFamily={SERIF} fontWeight="bold" fontSize={17}>{fmt(t)}</text>
        </g>
      ))}
      <Rich x={cx} y={p.top - 4} size={27} anchor="middle" segs={[['m', 'z'], ['r', '\u2002∼\u2002'], ['R', titles[idx]]]} />
      <Rich x={cx} y={p.bottom + p.xlab} size={25} anchor="middle" segs={[['M', 'Log'], ['R_', '10'], ['R', '('], ['M', 'M'], ['R_', '∗'], ['R', ') ['], ['M', 'M'], ['R_', '⊙'], ['R', ']']]} />
      <Rich x={0} y={0} size={27.5} anchor="middle" transform={`translate(${p.left - 69},${cy}) rotate(-90)`} segs={[['M', 'σ'], ['R', '('], ['M', 'Log'], ['R_', '10'], ['M', 'sSFR'], ['R', ')']]} />
      <rect x={m.x} y={m.y} width={m.w} height={m.h} rx={3} fill="#fff" fillOpacity={0.85} stroke="#cccccc" />
      {mainRows.map((r, i) => {
        const ry = m.y + m.rows[i];
        const hx0 = m.x + m.hx;
        const hx1 = hx0 + m.hw;
        return (
          <g key={i}>
            <line x1={hx0} x2={hx1} y1={ry} y2={ry} stroke={r.color} strokeWidth={3} strokeDasharray={r.dash} />
            <line x1={(hx0 + hx1) / 2} x2={(hx0 + hx1) / 2} y1={ry - 6} y2={ry + 6} stroke={r.color} strokeWidth={2.5} />
            <Rich x={m.x + m.tx} y={ry + m.font * 0.36} size={m.font} segs={r.segs} mathScale={1.1} />
          </g>
        );
      })}
      <rect x={lg.x} y={lg.y} width={lg.w} height={lg.h} rx={3} fill="#fff" fillOpacity={0.85} stroke="#cccccc" />
      {lg.entries.map((e, i) => {
        const ry = lg.y + lg.rows[i];
        const mx = lg.x + lg.mx;
        return (
          <g key={i}>
            {e.set.kind === 'hline' ? (
              <g>
                <line x1={mx - 12} x2={mx + 12} y1={ry} y2={ry} stroke={e.set.color} strokeWidth={1.2} />
                <line x1={mx} x2={mx} y1={ry - 6} y2={ry + 6} stroke={e.set.color} strokeWidth={1.2} />
              </g>
            ) : (
              <Marker kind={e.set.kind} cx={mx} cy={ry} color={e.set.color} />
            )}
            {e.lines.map((segs, j) => (
              <Rich key={j} x={lg.x + lg.tx} y={ry + lg.font * 0.36 + (e.lines.length > 1 ? (j - 0.5) * 18 : 0)} size={lg.font} segs={segs} mathScale={lg.ms} />
            ))}
          </g>
        );
      })}
    </g>
  );
}

export default function App() {
  const panels = buildPanels();
  return (
    <svg width={1055} height={1605} style={{ position: 'absolute', left: 0, top: 0, display: 'block' }}>
      <rect x={0} y={0} width={1055} height={1605} fill="#fff" />
      {panels.slice(0, 6).map((p, i) => <Panel key={i} p={p} idx={i} />)}
      <rect x={0} y={1203} width={1055} height={402} fill="#fff" />
      {panels.slice(6).map((p, i) => <Panel key={i + 6} p={p} idx={i + 6} />)}
    </svg>
  );
}
